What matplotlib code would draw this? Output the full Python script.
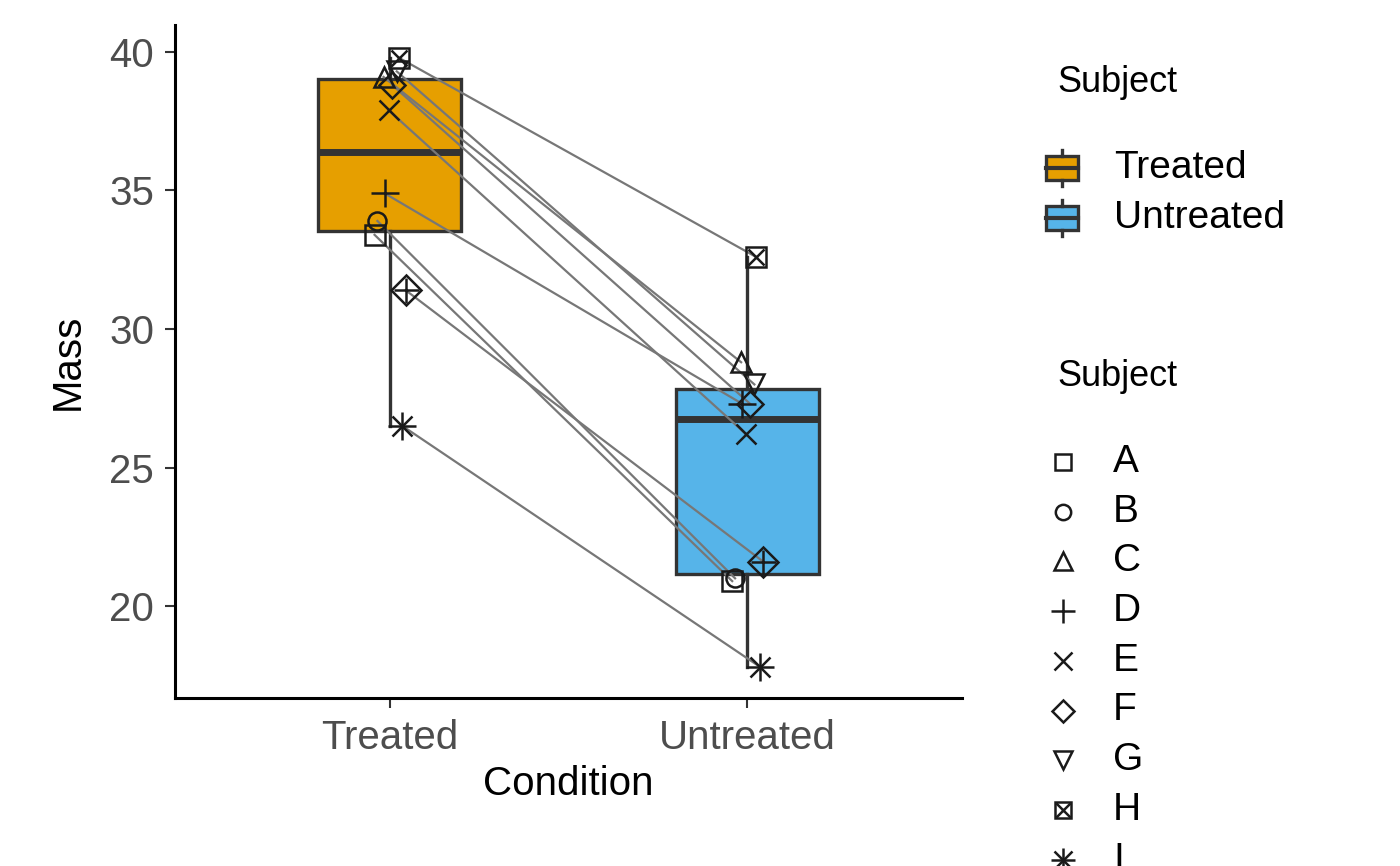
import matplotlib.pyplot as plt
import numpy as np

plt.rcParams['font.family'] = ['Liberation Sans Narrow', 'Liberation Sans', 'DejaVu Sans']

conditions = ['Treated', 'Untreated']
subjects = ['A', 'B', 'C', 'D', 'E', 'F', 'G', 'H', 'I', 'J']
treated = [33.4, 33.9, 39.1, 34.9, 37.9, 38.8, 39.3, 39.8, 26.5, 31.4]
untreated = [20.9, 21.0, 28.8, 27.3, 26.2, 27.3, 28.0, 32.6, 17.8, 21.6]
jitter = [-0.042, -0.034, -0.017, -0.014, -0.003, 0.008, 0.020, 0.025, 0.036, 0.045]
colors = ['#E69F00', '#56B4E9']

# R pch 0..9 as lists of matplotlib markers overlaid
shapes = [['s'], ['o'], ['^'], ['+'], ['x'], ['D'], ['v'], ['s', 'x'], ['+', 'x'], ['D', '+']]
sizes = {'s': 14, 'o': 13, '^': 15, 'v': 15, 'D': 13, '+': 20, 'x': 15}
ink = '#1a1a1a'

def draw_marker(ax, x, y, shape, scale=1.0, **kw):
    for m in shape:
        s = sizes[m] * scale
        if m == 'D' and len(shape) > 1:
            s = 15 * scale
        if m == '+' and len(shape) > 1 and shape[0] == 'D':
            s = 18 * scale
        if m == 'x' and shape[0] == 's':
            s = 12 * scale
        ax.plot([x], [y], marker=m, ms=s, mfc='none', mec=ink, mew=1.8, ls='none', **kw)

fig = plt.figure(figsize=(14, 8.66), dpi=100)
ax = fig.add_axes([0.125, 0.194, 0.562, 0.777])

bp = ax.boxplot([treated, untreated], positions=[0, 1], widths=0.4, patch_artist=True,
                showfliers=False, showcaps=False,
                boxprops=dict(color='#333333', lw=2.4),
                whiskerprops=dict(color='#333333', lw=2.4),
                medianprops=dict(color='#333333', lw=5))
for patch, c in zip(bp['boxes'], colors):
    patch.set_facecolor(c)

for i in range(len(subjects)):
    x0, x1 = 0 + jitter[i], 1 + jitter[i]
    ax.plot([x0, x1], [treated[i], untreated[i]], color='#777777', lw=1.6, zorder=3)
for i in range(len(subjects)):
    draw_marker(ax, jitter[i], treated[i], shapes[i], zorder=4)
    draw_marker(ax, 1 + jitter[i], untreated[i], shapes[i], zorder=4)

ax.set_xlim(-0.6, 1.6)
ax.set_ylim(16.68, 40.97)
ax.set_xticks([0, 1])
ax.set_xticklabels(conditions)
ax.set_yticks([20, 25, 30, 35, 40])
ax.tick_params(labelsize=29, colors='#4d4d4d', length=7, width=1.5, pad=8)
ax.tick_params(axis='both', color='#333333')
for s in ['top', 'right']:
    ax.spines[s].set_visible(False)
for s in ['left', 'bottom']:
    ax.spines[s].set_linewidth(2.2)
ax.set_xlabel('Condition', fontsize=29, labelpad=6)
ax.set_ylabel('Mass', fontsize=29, labelpad=16)

# legends
lax = fig.add_axes([0, 0, 1, 1], facecolor='none')
lax.set_xlim(0, 1400)
lax.set_ylim(866, 0)
lax.axis('off')
lax.text(1057, 82, 'Subject', fontsize=26, va='center')
for k, (name, c) in enumerate(zip(conditions, colors)):
    y = 168 + 50 * k
    lax.add_patch(plt.Rectangle((1046, y - 12), 32, 24, facecolor=c, edgecolor='#333333', lw=2.4))
    lax.plot([1046, 1078], [y, y], color='#333333', lw=3)
    lax.plot([1062, 1062], [y - 18, y - 12], color='#333333', lw=2.4)
    lax.plot([1062, 1062], [y + 12, y + 18], color='#333333', lw=2.4)
    lax.text(1114, y, name, fontsize=28, va='center')
lax.text(1057, 377, 'Subject', fontsize=26, va='center')
for i, name in enumerate(subjects):
    y = 462 + 49.7 * i
    draw_marker(lax, 1063, y, shapes[i], scale=0.85)
    lax.text(1113, y, name, fontsize=28, va='center')

fig.savefig('out.png', dpi=100)
